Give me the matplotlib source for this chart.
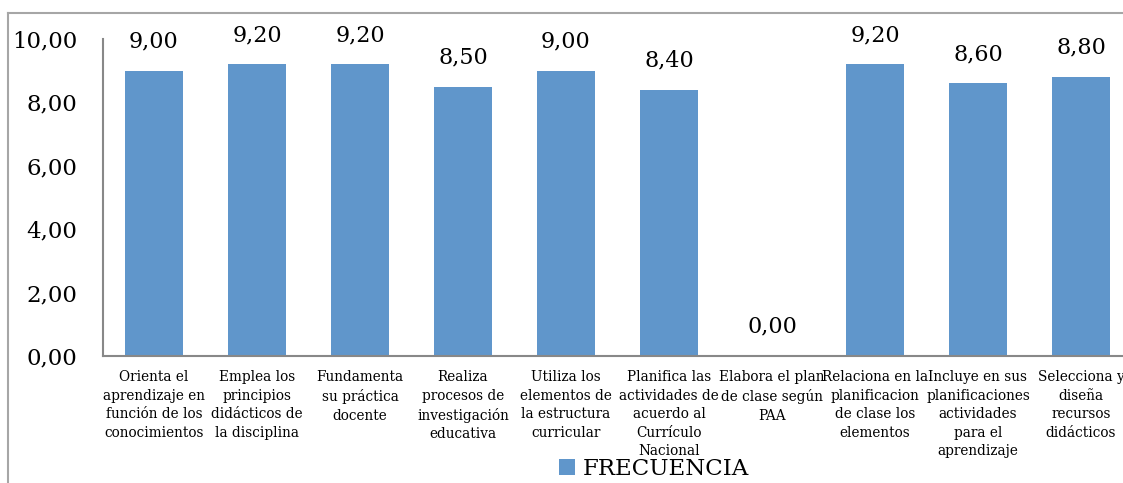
import matplotlib.pyplot as plt
from matplotlib.lines import Line2D

# datos
categorias = [
    "Orienta el\naprendizaje en\nfunción de los\nconocimientos",
    "Emplea los\nprincipios\ndidácticos de\nla disciplina",
    "Fundamenta\nsu práctica\ndocente",
    "Realiza\nprocesos de\ninvestigación\neducativa",
    "Utiliza los\nelementos de\nla estructura\ncurricular",
    "Planifica las\nactividades de\nacuerdo al\nCurrículo\nNacional",
    "Elabora el plan\nde clase según\nPAA",
    "Relaciona en la\nplanificacion\nde clase los\nelementos",
    "Incluye en sus\nplanificaciones\nactividades\npara el\naprendizaje",
    "Selecciona y\ndiseña\nrecursos\ndidácticos",
]
frecuencia = [9.00, 9.20, 9.20, 8.50, 9.00, 8.40, 0.00, 9.20, 8.60, 8.80]
yticks = [0, 2, 4, 6, 8, 10]

W, H = 1123, 483
color_barra = '#6096CB'
color_eje = '#888888'

plt.rcParams['font.family'] = ['DejaVu Serif']

fig = plt.figure(figsize=(W / 100, H / 100), dpi=100)
ax = fig.add_axes([102.5 / W, 1 - 356 / H, 1030 / W, 317 / H])

x = list(range(len(categorias)))
barras = ax.bar(x, frecuencia, width=0.57, color=color_barra, label='FRECUENCIA')

for xi, v in zip(x, frecuencia):
    ax.annotate(f"{v:.2f}".replace('.', ','), (xi, v), xytext=(0, 21),
                textcoords='offset points', ha='center', va='center', fontsize=16)

ax.set_xlim(-0.5, len(categorias) - 0.5)
ax.set_ylim(0, 10)
ax.set_yticks(yticks)
ax.set_yticklabels([f"{t:.2f}".replace('.', ',') for t in yticks], fontsize=16.5)
ax.set_xticks(x)
ax.set_xticklabels(categorias, fontsize=9.8, linespacing=1.42, va='top')
ax.tick_params(axis='y', length=0, pad=18)
ax.tick_params(axis='x', length=0, pad=10)

for s in ['top', 'right']:
    ax.spines[s].set_visible(False)
for s in ['left', 'bottom']:
    ax.spines[s].set_color(color_eje)
    ax.spines[s].set_linewidth(1.5)

fig.legend(handles=[barras], loc='center', bbox_to_anchor=(654 / W, 1 - 469 / H),
           frameon=False, fontsize=16.5, handlelength=0.7, handleheight=0.7,
           handletextpad=0.3)

# marco exterior (solo borde superior e izquierdo visibles)
x0, y0 = 8 / W, 1 - 13 / H
fig.add_artist(Line2D([x0, x0], [0, y0], transform=fig.transFigure,
                      color='#A6A6A6', linewidth=1.5))
fig.add_artist(Line2D([x0, 1], [y0, y0], transform=fig.transFigure,
                      color='#A6A6A6', linewidth=1.5))

fig.savefig('out.png', dpi=100)
